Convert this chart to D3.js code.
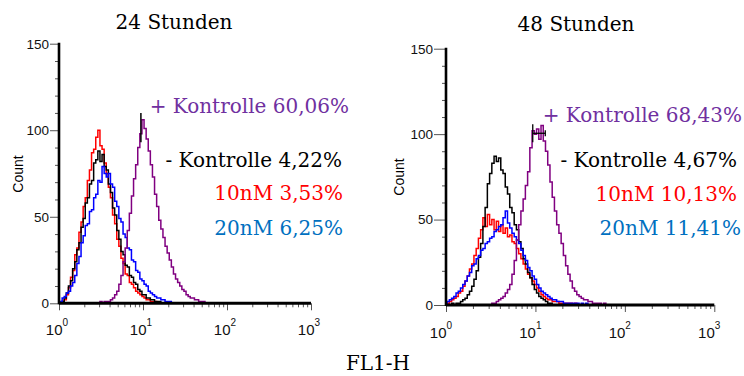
<!DOCTYPE html>
<html>
<head>
<meta charset="utf-8">
<script src="https://cdn.jsdelivr.net/npm/d3@7"></script>
<style>
  body { margin: 0; background: #fff; }
  svg { display: block; }
</style>
</head>
<body>
<div id="chart"></div>
<script>
// FL1-H channels as log10 exponents (bin centres)
const fl1Log = [
  0, 0.025, 0.05, 0.075, 0.1, 0.125, 0.15, 0.175, 0.2, 0.225,
  0.25, 0.275, 0.3, 0.325, 0.35, 0.375, 0.4, 0.425, 0.45, 0.475,
  0.5, 0.525, 0.55, 0.575, 0.6, 0.625, 0.65, 0.675, 0.7, 0.725,
  0.75, 0.775, 0.8, 0.825, 0.85, 0.875, 0.9, 0.925, 0.95, 0.975,
  1.0, 1.025, 1.05, 1.075, 1.1, 1.125, 1.15, 1.175, 1.2, 1.225,
  1.25, 1.275, 1.3, 1.325, 1.35, 1.375, 1.4, 1.425, 1.45, 1.475,
  1.5, 1.525, 1.55, 1.575, 1.6, 1.625, 1.65, 1.675, 1.7, 1.725,
  1.75, 1.775, 1.8
];

// 24 Stunden
const neg24 = [
  0, 0, 1, 3, 6, 10, 13, 20, 24, 31,
  35, 44, 49, 58, 61, 69, 71, 81, 83, 88,
  82, 86, 79, 77, 69, 64, 55, 51, 42, 37,
  30, 28, 22, 21, 16, 15, 12, 11, 8, 7,
  5, 5, 3, 3, 2, 2, 1, 1, 1, 0,
  0, 0, 0, 0, 0, 0, 0, 0, 0, 0,
  0, 0, 0, 0, 0, 0, 0, 0, 0, 0,
  0, 0, 0
];
const nm10_24 = [
  0, 0, 1, 2, 5, 9, 15, 19, 28, 32,
  41, 47, 56, 61, 71, 77, 87, 89, 96, 100,
  91, 89, 81, 75, 67, 61, 51, 46, 37, 33,
  26, 23, 17, 16, 12, 11, 9, 7, 6, 5,
  4, 3, 2, 2, 1, 1, 1, 0, 0, 0,
  0, 0, 0, 0, 0, 0, 0, 0, 0, 0,
  0, 0, 0, 0, 0, 0, 0, 0, 0, 0,
  0, 0, 0
];
const nm20_24 = [
  0, 1, 3, 4, 6, 7, 10, 12, 16, 23,
  27, 35, 39, 45, 46, 53, 54, 61, 63, 71,
  70, 79, 75, 73, 75, 69, 67, 59, 56, 49,
  47, 40, 38, 32, 31, 25, 24, 19, 18, 14,
  13, 11, 10, 7, 6, 5, 4, 3, 3, 2,
  2, 1, 1, 1, 0, 0, 0, 0, 0, 0,
  0, 0, 0, 0, 0, 0, 0, 0, 0, 0,
  0, 0, 0
];
const pos24 = [
  0, 0, 0, 0, 0, 0, 0, 0, 0, 0,
  0, 0, 0, 0, 0, 0, 0, 0, 0, 0,
  1, 0, 1, 1, 1, 2, 3, 5, 7, 11,
  16, 24, 32, 42, 52, 62, 72, 80, 90, 98,
  106, 101, 95, 88, 80, 73, 63, 56, 48, 43,
  38, 33, 29, 25, 21, 17, 14, 12, 10, 8,
  7, 5, 4, 3, 3, 2, 2, 1, 1, 1,
  0, 0, 0
];

// 48 Stunden
const neg48 = [
  0, 0, 0, 1, 0, 1, 1, 2, 3, 4,
  6, 8, 11, 15, 20, 28, 36, 46, 57, 71,
  77, 83, 87, 84, 86, 79, 77, 69, 65, 57,
  54, 47, 44, 37, 33, 27, 24, 19, 16, 12,
  9, 7, 5, 4, 3, 2, 1, 1, 0, 0,
  0, 0, 0, 0, 0, 0, 0, 0, 0, 0,
  0, 0, 0, 0, 0, 0, 0, 0, 0, 0,
  0, 0, 0
];
const nm10_48 = [
  0, 1, 2, 3, 4, 5, 7, 8, 11, 14,
  17, 21, 24, 29, 33, 39, 44, 51, 46, 53,
  47, 50, 44, 49, 43, 47, 42, 45, 40, 41,
  37, 36, 33, 30, 27, 24, 21, 18, 16, 14,
  12, 10, 8, 6, 5, 4, 3, 3, 2, 2,
  2, 1, 1, 1, 1, 1, 1, 0, 1, 0,
  0, 0, 0, 0, 0, 0, 0, 0, 0, 0,
  0, 0, 0
];
const nm20_48 = [
  1, 2, 3, 4, 5, 7, 8, 10, 12, 14,
  17, 19, 23, 24, 27, 29, 32, 33, 36, 37,
  39, 40, 43, 44, 46, 47, 51, 55, 48, 45,
  42, 40, 38, 36, 32, 29, 26, 22, 20, 17,
  15, 12, 10, 8, 7, 6, 5, 4, 3, 3,
  2, 2, 2, 1, 1, 1, 1, 1, 1, 1,
  0, 1, 0, 1, 0, 0, 0, 0, 0, 0,
  0, 0, 0
];
const pos48 = [
  0, 0, 0, 0, 0, 0, 0, 0, 0, 0,
  0, 0, 0, 0, 0, 0, 0, 0, 0, 0,
  0, 1, 1, 2, 3, 4, 5, 7, 9, 12,
  18, 26, 38, 47, 55, 62, 70, 78, 92, 102,
  100, 103, 97, 105, 96, 90, 82, 72, 63, 55,
  47, 42, 36, 29, 23, 18, 14, 10, 8, 6,
  5, 4, 3, 3, 2, 2, 1, 1, 1, 1,
  0, 1, 0
];

// gate marker on the positive peak
const gate24 = [0.975, 0.975, 93, 110];   // log from, log to, count from, count to
const gate48 = [0.97, 1.11, 100.5];       // log from, log to, count

const yMajor = [0, 50, 100, 150];
const yMinor = [10, 20, 30, 40, 60, 70, 80, 90, 110, 120, 130, 140];
const xMajor = [1, 10, 100, 1000];
const xMinor = [2, 3, 4, 5, 6, 7, 8, 9, 20, 30, 40, 50, 60, 70, 80, 90, 200, 300, 400, 500, 600, 700, 800, 900];
const legendLabels = ["+ Kontrolle", "- Kontrolle", "10nM", "20nM"];

const colors = { pos: "#800080", neg: "#000000", nm10: "#ff0000", nm20: "#0000ff" };
const textColors = ["#7030a0", "#000000", "#ff0000", "#0070c0"];
const sans = "'Liberation Sans', Arial, sans-serif";
const serif = "'DejaVu Serif', serif";

const panels = [
  {
    title: "24 Stunden", titleX: 174, titleY: 29,
    x0: 59, x1: 311, y0: 303.3, y1: 43.7, countX: 18, countY: 174,
    series: [neg24, nm10_24, nm20_24, pos24],
    pct: ["60,06%", "4,22%", "3,53%", "6,25%"],
    legX: [349, 342, 343, 343], legY: [113, 167, 200, 235],
    majorTick: 9, labelDx: 3, labelY: 32
  },
  {
    title: "48 Stunden", titleX: 576, titleY: 31,
    x0: 446, x1: 714.3, y0: 305, y1: 48.7, countX: 399, countY: 177,
    series: [neg48, nm10_48, nm20_48, pos48],
    pct: ["68,43%", "4,67%", "10,13%", "11,41%"],
    legX: [742, 737, 737, 741], legY: [122, 167, 201, 235],
    majorTick: 12, labelDx: 0, labelY: 33
  }
];

const width = 744, height = 376;
const svg = d3.select("#chart").append("svg")
  .attr("width", width)
  .attr("height", height);

panels.forEach((p, pi) => {
  const x = d3.scaleLog().domain([1, 1000]).range([p.x0, p.x1]);
  const y = d3.scaleLinear().domain([0, 150]).range([p.y0, p.y1]);
  const g = svg.append("g");

  // histograms (red, black, blue, purple on top)
  const line = d3.line()
    .x((d, i) => x(Math.pow(10, fl1Log[i])))
    .y(d => y(d))
    .curve(d3.curveStep);

  const order = [[1, colors.nm10], [0, colors.neg], [2, colors.nm20], [3, colors.pos]];
  order.forEach(([si, c]) => {
    g.append("path")
      .datum(p.series[si])
      .attr("fill", "none")
      .attr("stroke", c)
      .attr("stroke-width", 1.5)
      .attr("d", line);
  });

  // gate marker
  if (pi === 0) {
    g.append("line")
      .attr("x1", x(Math.pow(10, gate24[0]))).attr("x2", x(Math.pow(10, gate24[1])))
      .attr("y1", y(gate24[2])).attr("y2", y(gate24[3]))
      .attr("stroke", "#000").attr("stroke-width", 1.5);
  } else {
    const gx0 = x(Math.pow(10, gate48[0])), gx1 = x(Math.pow(10, gate48[1]));
    const gy = y(gate48[2]);
    g.append("line").attr("x1", gx0).attr("x2", gx1).attr("y1", gy).attr("y2", gy)
      .attr("stroke", "#000").attr("stroke-width", 1.3);
    g.append("line").attr("x1", gx0).attr("x2", gx0).attr("y1", gy - 9).attr("y2", gy + 9)
      .attr("stroke", "#000").attr("stroke-width", 1.3);
    g.append("line").attr("x1", gx1).attr("x2", gx1).attr("y1", gy - 3).attr("y2", gy + 3)
      .attr("stroke", "#000").attr("stroke-width", 1.3);
  }

  // y axis
  const yMin = g.append("g").attr("transform", `translate(${p.x0},0)`)
    .call(d3.axisLeft(y).tickValues(yMinor).tickSize(4).tickSizeOuter(0).tickFormat(""));
  yMin.select(".domain").remove();
  yMin.selectAll(".tick line").attr("stroke", "#555");
  const yMaj = g.append("g").attr("transform", `translate(${p.x0},0)`)
    .call(d3.axisLeft(y).tickValues(yMajor).tickSize(p.majorTick).tickPadding(1).tickSizeOuter(0));
  yMaj.select(".domain").remove();
  yMaj.selectAll(".tick line").attr("stroke", "#555");
  yMaj.selectAll(".tick text")
    .style("font-family", sans).style("font-size", "13.5px").attr("fill", "#111");

  // x axis
  const xMin = g.append("g").attr("transform", `translate(0,${p.y0})`)
    .call(d3.axisBottom(x).tickValues(xMinor).tickSize(4).tickSizeOuter(0).tickFormat(""));
  xMin.select(".domain").remove();
  xMin.selectAll(".tick line").attr("stroke", "#555");
  const xMaj = g.append("g").attr("transform", `translate(0,${p.y0})`)
    .call(d3.axisBottom(x).tickValues(xMajor).tickSize(7).tickSizeOuter(0).tickFormat(""));
  xMaj.select(".domain").remove();
  xMaj.selectAll(".tick line").attr("stroke", "#555");
  xMaj.selectAll(".tick").append("text")
    .attr("x", p.labelDx).attr("y", p.labelY)
    .attr("text-anchor", "end")
    .style("font-family", sans).style("font-size", "15px").attr("fill", "#111")
    .text("10");
  xMaj.selectAll(".tick").append("text")
    .attr("x", p.labelDx).attr("y", p.labelY - 9)
    .attr("text-anchor", "start")
    .style("font-family", sans).style("font-size", "10px").attr("fill", "#111")
    .text(d => String(Math.round(Math.log10(d))));

  // axis lines
  g.append("line").attr("x1", p.x0).attr("x2", p.x0).attr("y1", y(150) - 1).attr("y2", p.y0 + 1)
    .attr("stroke", "#000").attr("stroke-width", 2.6);
  g.append("line").attr("x1", p.x0).attr("x2", p.x1).attr("y1", p.y0).attr("y2", p.y0)
    .attr("stroke", "#000").attr("stroke-width", 3);

  // Count label
  g.append("text")
    .attr("transform", `translate(${p.countX},${p.countY}) rotate(-90)`)
    .attr("text-anchor", "middle")
    .attr("dy", "0.35em")
    .style("font-family", sans)
    .style("font-size", "14px")
    .text("Count");

  // title
  g.append("text")
    .attr("x", p.titleX).attr("y", p.titleY)
    .attr("text-anchor", "middle")
    .style("font-family", serif)
    .style("font-size", "20px")
    .text(p.title);

  // legend
  legendLabels.forEach((lab, i) => {
    g.append("text")
      .attr("x", p.legX[i]).attr("y", p.legY[i])
      .attr("text-anchor", "end")
      .style("font-family", serif)
      .style("font-size", "20px")
      .attr("fill", textColors[i])
      .text(lab + " " + p.pct[i]);
  });
});

svg.append("text")
  .attr("x", 378).attr("y", 370)
  .attr("text-anchor", "middle")
  .style("font-family", serif)
  .style("font-size", "20px")
  .text("FL1-H");
</script>
</body>
</html>
